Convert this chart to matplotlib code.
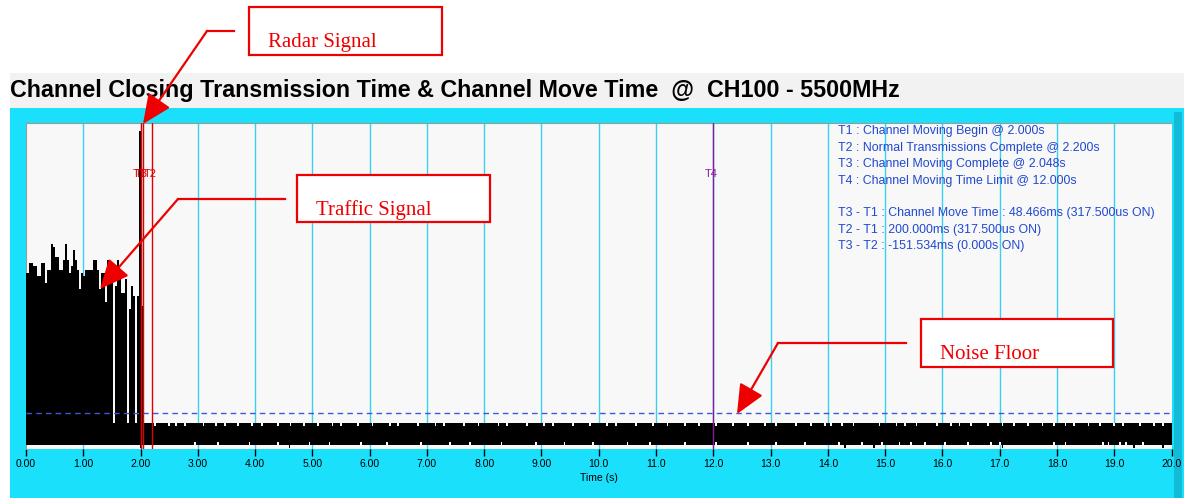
import numpy as np
import matplotlib.pyplot as plt
from matplotlib.patches import Rectangle

plt.rcParams['font.family'] = ['Liberation Sans', 'DejaVu Sans']

W, H = 1184, 498

# ---- data (y is a relative level, 0..100) ----
tick_pos = list(range(0, 21))
tick_labels = ['0.00', '1.00', '2.00', '3.00', '4.00', '5.00', '6.00', '7.00', '8.00', '9.00',
               '10.0', '11.0', '12.0', '13.0', '14.0', '15.0', '16.0', '17.0', '18.0', '19.0', '20.0']

# traffic envelope before the channel move, one sample every ~35 ms
traffic_t = np.linspace(0, 2.06, 60)
traffic_level = [54, 54, 57, 57, 56, 56, 53, 53, 57, 57,
                 51, 55, 55, 63, 62, 59, 59, 55, 55, 58,
                 63, 58, 54, 56, 61, 58, 55, 49, 54, 53,
                 55, 55, 55, 55, 58, 58, 55, 49, 54, 54,
                 45, 58, 54, 53, 8, 50, 58, 52, 48, 48,
                 52, 8, 43, 50, 47, 8, 47, 44, 44, 8]

radar_t = 1.995
radar_level = 97.5

noise_top = 8.0
noise_bottom = 1.2
noise_floor = 11.0

# white notches in the noise band (top edge / bottom edge)
top_notch_t = [2.25, 2.5, 2.62, 2.78, 3.1, 3.32, 3.48, 3.7, 3.95, 4.12, 4.4, 4.62, 4.85,
               5.1, 5.35, 5.5, 5.8, 6.05, 6.35, 6.5, 6.85, 7.15, 7.3, 7.65, 7.9, 8.25, 8.4,
               8.75, 9.05, 9.2, 9.55, 9.85, 10.15, 10.3, 10.65, 10.95, 11.2, 11.5, 11.75,
               12.05, 12.35, 12.6, 12.9, 13.1, 13.45, 13.7, 13.95, 14.05, 14.25, 14.45,
               14.9, 15.2, 15.35, 15.55, 15.9, 16.15, 16.3, 16.5, 16.8, 17.05, 17.25, 17.5,
               17.75, 17.95, 18.15, 18.3, 18.55, 18.75, 19.0, 19.15, 19.45, 19.7, 19.85]
bottom_notch_t = [0.45, 0.55, 1.05, 1.15, 1.25, 1.4, 1.5, 1.82, 2.95, 3.35, 3.9, 4.4,
                  4.95, 5.3, 5.85, 6.3, 6.9, 7.4, 7.75, 8.3, 8.9, 9.4, 9.9, 10.5, 10.9,
                  11.5, 12.05, 12.6, 13.1, 13.6, 14.2, 14.6, 14.95, 15.25, 15.45, 15.7,
                  16.05, 16.45, 16.85, 17.0, 17.95, 18.15, 18.8, 18.9, 19.1, 19.2, 19.5]
down_tick_t = [2.0, 4.6, 14.3, 14.8, 17.05, 19.35, 19.85]

marker_names = ['T1', 'T2', 'T3', 'T4']
marker_t = [2.000, 2.200, 2.048, 12.000]
marker_colors = ['#e00000', '#e00000', '#e00000', '#8a1a9a']

info_lines = [
    'T1 : Channel Moving Begin @ 2.000s',
    'T2 : Normal Transmissions Complete @ 2.200s',
    'T3 : Channel Moving Complete @ 2.048s',
    'T4 : Channel Moving Time Limit @ 12.000s',
    '',
    'T3 - T1 : Channel Move Time : 48.466ms (317.500us ON)',
    'T2 - T1 : 200.000ms (317.500us ON)',
    'T3 - T2 : -151.534ms (0.000s ON)',
]

title = 'Channel Closing Transmission Time & Channel Move Time  @  CH100 - 5500MHz'


def fx(x):
    return x / W


def fy(y):
    return 1 - y / H


fig = plt.figure(figsize=(W / 100, H / 100), dpi=100)
fig.patch.set_facecolor('white')

# background: title band and cyan panel, drawn in a full-figure axes underneath
base = fig.add_axes([0, 0, 1, 1], zorder=-10)
base.set_xlim(0, W)
base.set_ylim(H, 0)
base.axis('off')
base.add_patch(Rectangle((10, 73), W, 35, facecolor='#f2f2f2', edgecolor='none'))
base.add_patch(Rectangle((10, 108), W, H, facecolor='#1be0fb', edgecolor='none'))
base.add_patch(Rectangle((1174, 112), 8, H, facecolor='#12bcd8', edgecolor='none'))
base.text(10, 90, title, fontsize=16.75, fontweight='bold', va='center', ha='left')

ax = fig.add_axes([fx(26), fy(449), (1171.5 - 26) / W, 326 / H])
bg = '#f8f8f8'
ax.set_facecolor(bg)
ax.set_xlim(0, 20)
ax.set_ylim(0, 100)

for t in range(1, 20):
    ax.axvline(t, color='#38d0f0', lw=1, zorder=1)

# noise band across the whole trace
ax.fill_between([0, 20], noise_bottom, noise_top, color='black', lw=0, zorder=2)
ax.bar(top_notch_t, 1.0, bottom=noise_top - 0.9, width=0.03, color=bg, lw=0, zorder=3)
ax.bar(bottom_notch_t, 1.0, bottom=noise_bottom - 0.1, width=0.03, color=bg, lw=0, zorder=3)
ax.bar(down_tick_t, 1.0, bottom=0.3, width=0.03, color='black', lw=0, zorder=3)

# traffic and radar burst
lvl = np.array(traffic_level, dtype=float)
ax.bar(traffic_t, lvl - noise_bottom, bottom=noise_bottom, width=0.036,
       color='black', lw=0, zorder=4)
ax.bar([radar_t], [radar_level - noise_bottom], bottom=noise_bottom, width=0.03,
       color='black', lw=0, zorder=4)

ax.axhline(noise_floor, color='#3a5ad8', lw=1, ls=(0, (4, 3)), zorder=5)

for name, t, c in zip(marker_names, marker_t, marker_colors):
    ax.axvline(t, color=c, lw=1, zorder=6)
    ax.text(t - 0.03, 84.5, name, color=c, fontsize=8, ha='center', va='center', zorder=6)

for i, line in enumerate(info_lines):
    ax.text(14.17, 97.5 - i * 5.05, line, color='#2048d0', fontsize=8.9,
            ha='left', va='center', zorder=7)

for side in ['right', 'bottom']:
    ax.spines[side].set_visible(False)
for side in ['top', 'left']:
    ax.spines[side].set_color('#9a9a9a')
ax.set_yticks([])
ax.set_xticks(tick_pos)
ax.set_xticklabels(tick_labels, fontsize=7.5)
ax.tick_params(axis='x', length=5, width=1, color='black', pad=2)
ax.set_xlabel('Time (s)', fontsize=7.5, labelpad=3)

# callout boxes and arrows, in figure pixels
ov = fig.add_axes([0, 0, 1, 1], zorder=20)
ov.set_xlim(0, W)
ov.set_ylim(H, 0)
ov.axis('off')
ov.patch.set_alpha(0)

callouts = [
    ('Radar Signal', (249, 7, 193, 48), (234, 207, 31), (143, 124)),
    ('Traffic Signal', (297, 175, 193, 47), (285, 178, 199), (100, 289)),
    ('Noise Floor', (921, 319, 192, 48), (906, 778, 343), (737, 414)),
]
for label, (bx, by, bw, bh), (x0, x1, yl), tip in callouts:
    ov.add_patch(Rectangle((bx, by), bw, bh, facecolor='white', edgecolor='#ee0000', lw=1.6))
    ov.text(bx + 19, by + bh * 0.74, label, color='#ee0000', fontsize=15,
            family=['Liberation Serif', 'DejaVu Serif'], ha='left', va='center')
    ov.plot([x0, x1], [yl, yl], color='#ee0000', lw=1.6)
    ov.annotate('', xy=tip, xytext=(x1, yl),
                arrowprops=dict(arrowstyle='-|>,head_length=1.0,head_width=0.45',
                                color='#ee0000', lw=1.6, mutation_scale=18,
                                shrinkA=0, shrinkB=0))

fig.savefig('out.png', dpi=100)
